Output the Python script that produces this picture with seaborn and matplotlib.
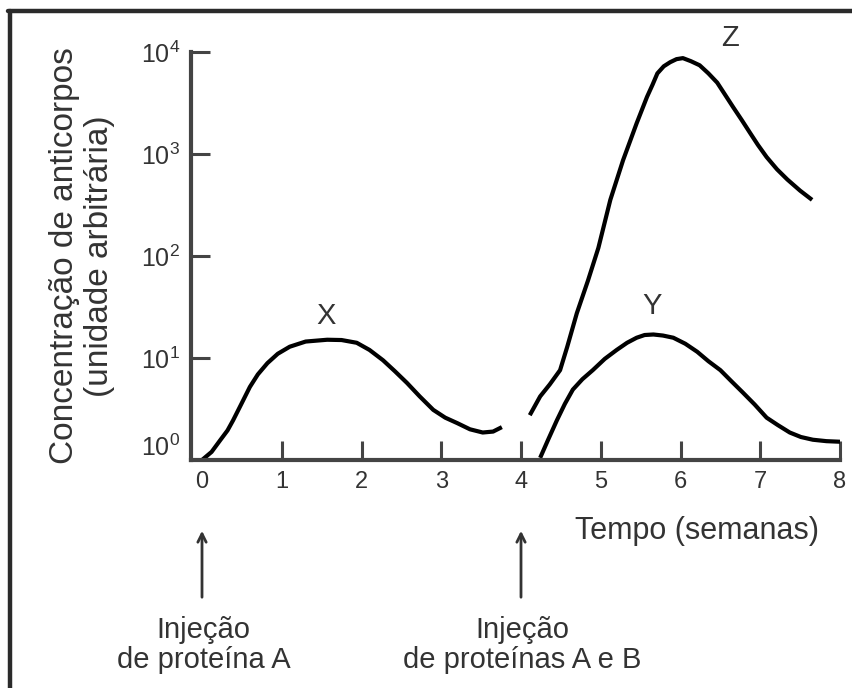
import numpy as np
import pandas as pd
import matplotlib
matplotlib.use("Agg")
import matplotlib.pyplot as plt
import matplotlib.transforms as mtransforms
from matplotlib.lines import Line2D
import seaborn as sns

# ---- data ----
weeks_x = [0.00, 0.12, 0.23, 0.32, 0.39, 0.50, 0.60, 0.70, 0.82, 0.95, 1.10, 1.30, 1.57, 1.75,
           1.94, 2.10, 2.27, 2.42, 2.57, 2.73, 2.90, 3.05, 3.20, 3.36, 3.52, 3.65, 3.76]
conc_x  = [1.0, 1.20, 1.57, 1.95, 2.45, 3.63, 5.2, 6.9, 8.9, 11.0, 12.9, 14.5, 15.1, 15.0,
           14.1, 12.0, 9.5, 7.4, 5.7, 4.2, 3.1, 2.6, 2.3, 2.0, 1.86, 1.9, 2.1]

weeks_z = [4.11, 4.24, 4.36, 4.49, 4.58, 4.70, 4.84, 4.97, 5.12, 5.28, 5.45, 5.58, 5.65, 5.71,
           5.79, 5.87, 5.95, 6.03, 6.13, 6.24, 6.35, 6.46, 6.56, 6.66, 6.77, 6.87, 6.97, 7.08,
           7.21, 7.34, 7.50, 7.65]
conc_z  = [2.75, 4.2, 5.5, 7.6, 12.9, 27.5, 57.5, 120, 355, 870, 2000, 3630, 4790, 6170,
           7240, 7940, 8510, 8710, 8130, 7410, 6170, 5010, 3800, 2880, 2140, 1620, 1230, 933,
           708, 562, 437, 355]

weeks_y = [4.24, 4.34, 4.45, 4.55, 4.65, 4.77, 4.90, 5.05, 5.20, 5.33, 5.45, 5.55, 5.66, 5.78,
           5.91, 6.06, 6.21, 6.35, 6.50, 6.64, 6.78, 6.93, 7.08, 7.22, 7.37, 7.51, 7.66, 7.83, 8.00]
conc_y  = [1.05, 1.58, 2.45, 3.55, 4.9, 6.2, 7.6, 9.8, 12.0, 14.1, 15.8, 16.8, 17.0, 16.6,
           15.8, 13.8, 11.5, 9.3, 7.6, 5.9, 4.6, 3.5, 2.6, 2.2, 1.86, 1.68, 1.58, 1.53, 1.51]

curve_names = ["X", "Z", "Y"]
label_pos_t = [1.56, 6.62, 5.64]
label_pos_v = [26, 13800, 32]

x_ticks = [0, 1, 2, 3, 4, 5, 6, 7, 8]
y_ticks = [1, 10, 100, 1000, 10000]
y_tick_labels = ["$10^{0}$", "$10^{1}$", "$10^{2}$", "$10^{3}$", "$10^{4}$"]

injection_weeks = [0, 4]
injection_texts = ["Injeção\nde proteína A", "Injeção\nde proteínas A e B"]

df = pd.concat([
    pd.DataFrame({"t": weeks_x, "c": conc_x, "curva": "X"}),
    pd.DataFrame({"t": weeks_z, "c": conc_z, "curva": "Z"}),
    pd.DataFrame({"t": weeks_y, "c": conc_y, "curva": "Y"}),
], ignore_index=True)

# ---- style ----
sns.set_theme(style="white")
plt.rcParams["font.family"] = ["Liberation Sans", "DejaVu Sans"]
plt.rcParams["mathtext.fontset"] = "custom"
plt.rcParams["mathtext.rm"] = "Liberation Sans"
plt.rcParams["mathtext.it"] = "Liberation Sans"
plt.rcParams["mathtext.bf"] = "Liberation Sans"

txt = "#333333"
spine_c = "#444444"

fig = plt.figure(figsize=(8.52, 6.88), dpi=100)
ax = fig.add_axes([191 / 852, 228 / 688, 649 / 852, 408 / 688])

sns.lineplot(data=df, x="t", y="c", hue="curva", units="curva", estimator=None, sort=False,
             palette={"X": "black", "Y": "black", "Z": "black"}, legend=False,
             linewidth=3.0, ax=ax)
for ln in ax.get_lines():
    ln.set_solid_joinstyle("round")
    ln.set_solid_capstyle("butt")

ax.set_yscale("log")
ax.set_xlim(-0.138, 8)
ax.set_ylim(1, 1e4)

ax.set_xticks(x_ticks)
ax.set_xticklabels([str(v) for v in x_ticks])
ax.set_yticks(y_ticks)
ax.set_yticklabels(y_tick_labels)
ax.minorticks_off()

ax.tick_params(axis="x", which="major", bottom=True, direction="in", length=14, width=2.2,
               color=spine_c, labelsize=17, labelcolor=txt, pad=8)
ax.tick_params(axis="y", which="major", left=True, direction="in", length=13.5, width=2.2,
               color=spine_c, labelsize=18, labelcolor=txt, pad=8)
ax.xaxis.get_major_ticks()[0].tick1line.set_visible(False)
ax.yaxis.get_major_ticks()[0].tick1line.set_visible(False)

# lift the 10^0 label like the reference
lab0 = ax.get_yticklabels()[0]
lab0.set_transform(lab0.get_transform() + mtransforms.ScaledTranslation(0, 0.15, fig.dpi_scale_trans))

for side in ["top", "right"]:
    ax.spines[side].set_visible(False)
for side in ["left", "bottom"]:
    ax.spines[side].set_color(spine_c)
    ax.spines[side].set_linewidth(3)

ax.set_xlabel("")
ylab = ax.set_ylabel("Concentração de anticorpos\n(unidade arbitrária)", fontsize=24, color=txt,
                     linespacing=1.2, multialignment="center")
ylab.set_va("center")
ax.yaxis.set_label_coords(-0.168, 0.5)

for name, t, v in zip(curve_names, label_pos_t, label_pos_v):
    ax.text(t, v, name, fontsize=21, color=txt, ha="center", va="center")

# x axis title
ax.annotate("Tempo (semanas)", xy=(6.21, 157), xycoords=("data", "figure pixels"),
            fontsize=22, color=txt, ha="center", va="center", annotation_clip=False)

# injection arrows and texts
for t, s in zip(injection_weeks, injection_texts):
    ax.annotate("", xy=(t, 160), xytext=(t, 88),
                xycoords=("data", "figure pixels"), textcoords=("data", "figure pixels"),
                arrowprops=dict(arrowstyle="->,head_length=0.5,head_width=0.25", color="#333333", lw=2),
                annotation_clip=False)
    ax.annotate(s, xy=(t + 0.02, 43), xycoords=("data", "figure pixels"),
                fontsize=21, color=txt, ha="center", va="center", linespacing=1.1,
                multialignment="center", annotation_clip=False)

# frame (top and left only, as in the reference)
fig.add_artist(Line2D([8 / 852, 1], [1 - 11 / 688, 1 - 11 / 688], transform=fig.transFigure,
                      color="#2a2a2a", lw=3.2))
fig.add_artist(Line2D([9.5 / 852, 9.5 / 852], [0, 1 - 11 / 688], transform=fig.transFigure,
                      color="#2a2a2a", lw=3.2))

fig.savefig("out.png", dpi=100)
